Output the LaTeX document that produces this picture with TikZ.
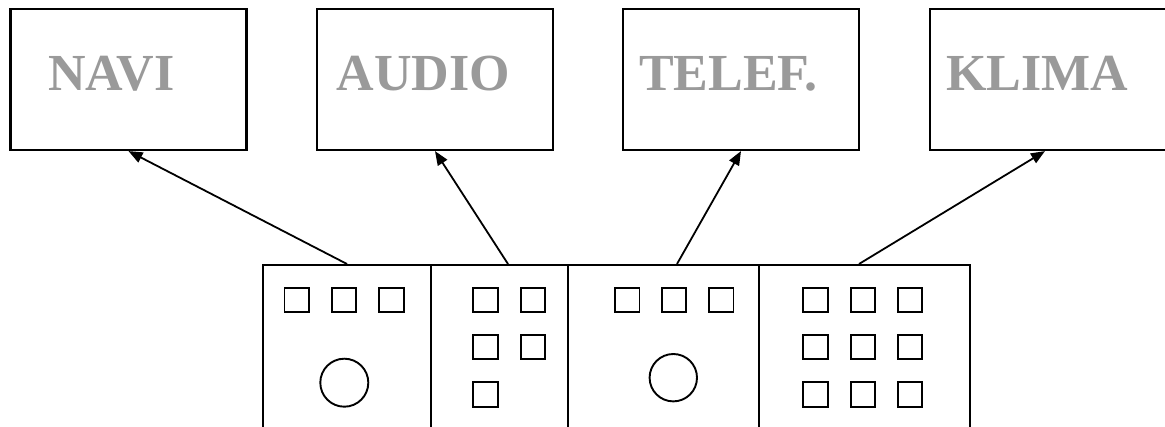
\documentclass[tikz,border=0pt]{standalone}
\usepackage{fontspec}
\setmainfont{Liberation Serif}
\usetikzlibrary{arrows.meta}
\definecolor{labelgray}{HTML}{9A9A9A}
\begin{document}
\begin{tikzpicture}[x=1pt,y=-1pt,
  topbox/.style={draw=black,line width=2.2pt,minimum width=236pt,minimum height=141pt,inner sep=0pt},
  lbl/.style={anchor=base,inner sep=0pt,text=labelgray,font=\fontsize{52}{52}\selectfont\bfseries},
  panel/.style={draw=black,line width=1.9pt,inner sep=0pt,anchor=north west},
  btn/.style={draw=black,line width=1.9pt,minimum size=24.5pt,inner sep=0pt},
  knob/.style={draw=black,line width=1.9pt,circle,inner sep=0pt},
  conn/.style={line width=1.8pt,-{Triangle[length=14pt,width=11pt]}}]
\clip (0,0) rectangle (1165,427);
\fill[white] (0,0) rectangle (1165,427);
% top boxes
\node[topbox] (navi) at (128.5,79.5) {};
\node[topbox] (audio) at (435,79.5) {};
\node[topbox] (telef) at (741,79.5) {};
\node[topbox] (klima) at (1048,79.5) {};
\node[lbl] (tnavi) at (111.5,91) {NAVI};
\node[lbl] (taudio) at (423.5,91) {AUDIO};
\node[lbl] (ttelef) at (728.5,91) {TELEF.};
\node[lbl] (tklima) at (1037.5,91) {KLIMA};
% bottom panel sections
\node[panel,minimum width=168pt,minimum height=190pt] (p1) at (262,264) {};
\node[panel,minimum width=137pt,minimum height=190pt] (p2) at (430,264) {};
\node[panel,minimum width=191pt,minimum height=190pt] (p3) at (567,264) {};
\node[panel,minimum width=211pt,minimum height=190pt] (p4) at (758,264) {};
% connector start points
\coordinate (s1) at (347,264);
\coordinate (s2) at (508,264);
\coordinate (s3) at (677,264);
\coordinate (s4) at (859,264);
\draw[conn] (s1) -- (navi.south);
\draw[conn] (s2) -- (audio.south);
\draw[conn] (s3) -- (telef.south);
\draw[conn] (s4) -- ([xshift=-3pt]klima.south);
% panel 1
\node[btn] (a1) at (296.7,300) {};
\node[btn] (a2) at (343.9,300) {};
\node[btn] (a3) at (391.3,300) {};
\node[knob,minimum size=48pt] (k1) at (344.3,382.7) {};
% panel 2
\node[btn] (b1) at (485.5,300) {};
\node[btn] (b2) at (532.9,300) {};
\node[btn] (b3) at (485.5,347.2) {};
\node[btn] (b4) at (532.9,347.2) {};
\node[btn] (b5) at (485.5,394.5) {};
% panel 3
\node[btn] (c1) at (627.2,300) {};
\node[btn] (c2) at (673.9,300) {};
\node[btn] (c3) at (721.2,300) {};
\node[knob,minimum size=47.4pt] (k2) at (673.3,377.7) {};
% panel 4
\node[btn] (d1) at (815.5,300) {};
\node[btn] (d2) at (862.9,300) {};
\node[btn] (d3) at (909.9,300) {};
\node[btn] (d4) at (815.5,347.2) {};
\node[btn] (d5) at (862.9,347.2) {};
\node[btn] (d6) at (909.9,347.2) {};
\node[btn] (d7) at (815.5,394.5) {};
\node[btn] (d8) at (862.9,394.5) {};
\node[btn] (d9) at (909.9,394.5) {};
\end{tikzpicture}
\end{document}
